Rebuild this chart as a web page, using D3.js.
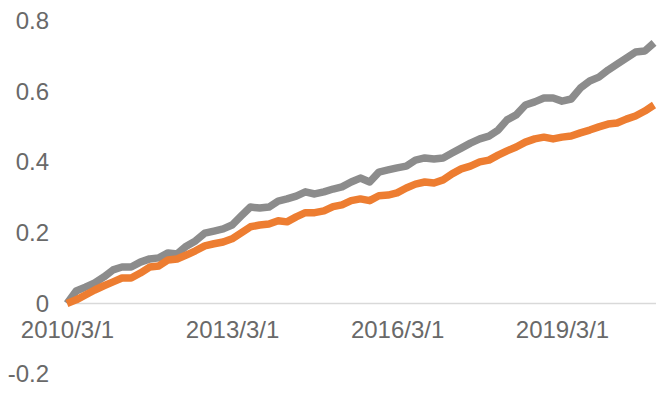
<!DOCTYPE html>
<html>
<head>
<meta charset="utf-8">
<script src="https://cdn.jsdelivr.net/npm/d3@7"></script>
<style>
  html, body { margin: 0; padding: 0; background: #fff; }
  svg { display: block; }
  .tick text { font-family: "Liberation Sans", Arial, sans-serif; font-size: 24px; fill: #696969; }
</style>
</head>
<body>
<svg id="chart" width="663" height="393"></svg>
<script>
// ---- data (bimonthly observations, cumulative values) ----
const dates = [
  "2010-03-01","2010-05-01","2010-07-01","2010-09-01","2010-11-01",
  "2011-01-01","2011-03-01","2011-05-01","2011-07-01","2011-09-01","2011-11-01",
  "2012-01-01","2012-03-01","2012-05-01","2012-07-01","2012-09-01","2012-11-01",
  "2013-01-01","2013-03-01","2013-05-01","2013-07-01","2013-09-01","2013-11-01",
  "2014-01-01","2014-03-01","2014-05-01","2014-07-01","2014-09-01","2014-11-01",
  "2015-01-01","2015-03-01","2015-05-01","2015-07-01","2015-09-01","2015-11-01",
  "2016-01-01","2016-03-01","2016-05-01","2016-07-01","2016-09-01","2016-11-01",
  "2017-01-01","2017-03-01","2017-05-01","2017-07-01","2017-09-01","2017-11-01",
  "2018-01-01","2018-03-01","2018-05-01","2018-07-01","2018-09-01","2018-11-01",
  "2019-01-01","2019-03-01","2019-05-01","2019-07-01","2019-09-01","2019-11-01",
  "2020-01-01","2020-03-01","2020-05-01","2020-07-01","2020-09-01","2020-11-01"
];
const graySeries = [
  0.000,0.035,0.046,0.058,0.075,0.095,0.103,0.103,0.117,0.126,0.129,
  0.143,0.140,0.162,0.177,0.199,0.205,0.211,0.222,0.248,0.273,0.270,
  0.273,0.290,0.296,0.304,0.316,0.310,0.316,0.324,0.330,0.344,0.355,
  0.344,0.372,0.378,0.384,0.389,0.406,0.412,0.409,0.412,0.426,0.440,
  0.454,0.466,0.474,0.491,0.520,0.534,0.562,0.571,0.582,0.582,0.573,
  0.579,0.610,0.630,0.641,0.661,0.678,0.695,0.712,0.715,0.738
];
const orangeSeries = [
  0.000,0.010,0.024,0.038,0.050,0.061,0.072,0.072,0.086,0.103,0.106,
  0.123,0.126,0.137,0.149,0.163,0.169,0.174,0.183,0.200,0.217,0.222,
  0.225,0.234,0.231,0.245,0.257,0.257,0.262,0.274,0.279,0.291,0.296,
  0.291,0.305,0.307,0.313,0.327,0.338,0.344,0.341,0.350,0.367,0.381,
  0.389,0.401,0.406,0.420,0.432,0.443,0.457,0.466,0.471,0.466,0.471,
  0.474,0.483,0.491,0.500,0.508,0.511,0.522,0.531,0.545,0.562
];
const xTickLabels = ["2010/3/1","2013/3/1","2016/3/1","2019/3/1"];
const yTicks = [-0.2, 0, 0.2, 0.4, 0.6, 0.8];

// ---- chart ----
const svg = d3.select("#chart");
const parse = d3.timeParse("%Y-%m-%d");
const parseLabel = d3.timeParse("%Y/%m/%d");
const dts = dates.map(parse);

const x = d3.scaleTime()
  .domain([dts[0], dts[dts.length - 1]])
  .range([67, 654]);
const y = d3.scaleLinear()
  .domain([-0.2, 0.8])
  .range([374, 21]);

// y axis labels
const yAxis = d3.axisLeft(y)
  .tickValues(yTicks)
  .tickSize(0)
  .tickPadding(0)
  .tickFormat(d => d === 0 ? "0" : d.toFixed(1));
const gy = svg.append("g").attr("transform", "translate(49,0)").call(yAxis);
gy.select(".domain").remove();

// x axis at y = 0
const xAxis = d3.axisBottom(x)
  .tickValues(xTickLabels.map(parseLabel))
  .tickSize(0)
  .tickFormat((d, i) => xTickLabels[i]);
const gx = svg.append("g").attr("transform", `translate(0,${y(0)})`).call(xAxis);
gx.select(".domain").remove();
gx.selectAll(".tick text").attr("dy", "0.32em").attr("y", 27);

svg.append("line")
  .attr("x1", x(dts[0])).attr("x2", 656)
  .attr("y1", y(0)).attr("y2", y(0))
  .attr("stroke", "#d9d9d9").attr("stroke-width", 1.5);

const line = d3.line()
  .x((d, i) => x(dts[i]))
  .y(d => y(d))
  .curve(d3.curveLinear);

svg.append("path")
  .datum(graySeries)
  .attr("fill", "none")
  .attr("stroke", "#8c8c8c")
  .attr("stroke-width", 7.5)
  .attr("stroke-linejoin", "round")
  .attr("d", line);

svg.append("path")
  .datum(orangeSeries)
  .attr("fill", "none")
  .attr("stroke", "#ed7d31")
  .attr("stroke-width", 7.5)
  .attr("stroke-linejoin", "round")
  .attr("d", line);
</script>
</body>
</html>
